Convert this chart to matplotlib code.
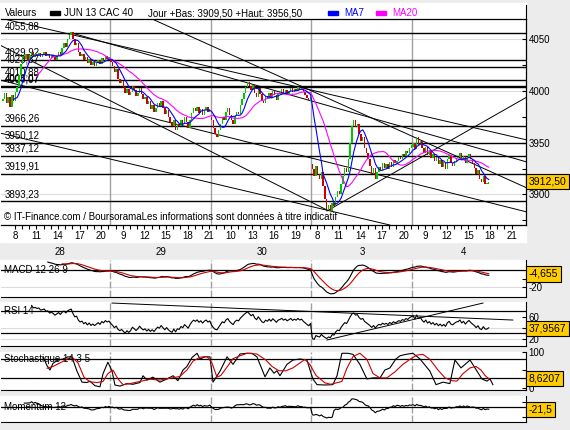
import numpy as np
import pandas as pd
import matplotlib
matplotlib.use("Agg")
import matplotlib.pyplot as plt
from matplotlib.patches import Rectangle

plt.rcParams['font.family'] = ['Liberation Sans', 'DejaVu Sans']

# ---- data (15 min bars, one list per trading day) ----
day_names = ["28", "29", "30", "3", "4"]
day_first_slot = [-4, 56, 112, 168, 224]
day_open = [3990, 4030, 3975, 3929, 3946]

close_28 = [3992, 3998, 3988, 3994, 3985, 3996, 3990, 3999, 4004,
            4015, 4026, 4034,
            4031, 4036, 4029, 4035, 4038, 4033, 4036, 4034,
            4037, 4033, 4035, 4038, 4034, 4036, 4032, 4035, 4033, 4030, 4034,
            4038, 4035, 4042, 4046, 4043, 4050, 4054, 4057,
            4050, 4044, 4046, 4038, 4034, 4036,
            4030, 4033, 4027, 4031, 4025, 4028, 4024, 4027, 4030, 4026, 4032, 4029, 4034, 4031, 4033]
close_29 = [4028, 4024, 4018, 4021, 4012, 4008, 4010,
            4004, 3998, 4002, 3996, 3999, 4005, 4001, 3995, 3998, 4003, 3997,
            3992, 3994, 3987, 3990, 3983, 3986, 3980, 3984, 3988, 3985,
            3990, 3984, 3978, 3982, 3975, 3970, 3966, 3972, 3962, 3968,
            3966, 3972, 3968, 3975, 3970, 3964, 3972, 3979, 3984,
            3981, 3985, 3979, 3983, 3977, 3982, 3985, 3980, 3983]
close_30 = [3972, 3964, 3958, 3956, 3962,
            3968, 3975, 3972, 3980, 3984, 3977, 3972, 3968, 3976, 3980, 3978,
            3986, 3992, 3998, 4004, 4009, 4005,
            4001, 4006, 3998, 3994, 4003, 3997, 3990, 3988, 3995, 3992,
            3998, 3993, 4000, 3996, 3991, 3997,
            3999, 4002, 3998, 4001, 3997, 4000, 4003, 3999, 4002, 4000, 4004, 4001, 4003, 3999, 3996, 3993, 3990, 3994]
close_3 = [3925, 3918, 3928, 3920, 3915, 3922,
           3908, 3896, 3886, 3890,
           3884, 3892, 3889, 3898, 3903, 3900, 3910,
           3918, 3926, 3922, 3934,
           3950, 3966, 3972,
           3965, 3968, 3958, 3952, 3956, 3945, 3940,
           3934, 3928, 3920, 3926, 3915,
           3922, 3927, 3924, 3930, 3926, 3929, 3925, 3931, 3927, 3933, 3930,
           3932, 3936, 3934, 3939, 3937, 3942, 3940, 3945, 3948]
close_4 = [3950, 3944, 3956, 3948, 3952, 3945,
           3940, 3946, 3938, 3942, 3935, 3939, 3932, 3936,
           3929, 3933, 3927, 3931, 3925, 3934, 3938, 3930, 3928, 3932, 3935,
           3936, 3940, 3933, 3937, 3930, 3935, 3939, 3934, 3930,
           3926, 3920, 3924, 3915, 3912, 3918, 3910, 3910, 3912.5]

# support / resistance levels
levels = [4055.88, 4029.92, 4023.37, 4010.88, 4005.07, 4004.07,
          3966.26, 3950.12, 3937.12, 3919.91, 3893.23]
level_labels = ["4055,88", "4029,92", "4023,37", "4010,88", "4005,07", "4004,07",
                "3966,26", "3950,12", "3937,12", "3919,91", "3893,23"]

# trend lines (slot, price)
trend_x0 = [-5.6, 34.4, 77.8, -5.6, 176.1, -5.6, -5.6]
trend_y0 = [4070.5, 4056.0, 4070.5, 4010.6, 3884.1, 4044.4, 3959.4]
trend_x1 = [287.2, 287.2, 287.2, 287.2, 287.2, 176.1, 211.0]
trend_y1 = [3952.7, 3931.4, 3906.3, 3883.1, 3994.2, 3885.0, 3870.5]

# RSI trend lines (slot, value)
rsi_tx0 = [56.7, 176.1]
rsi_ty0 = [84.5, 17.3]
rsi_tx1 = [279.4, 262.8]
rsi_ty1 = [53.6, 84.5]

# stochastic (slot, value)
stoch_k_slot = [18.3, 20.6, 22.2, 23.9, 26.7, 29.4, 32.2, 34.4, 37.2, 40.0, 42.8, 44.4, 47.2, 50.0,
                51.7, 54.4, 56.7, 58.3, 61.1, 65.0, 68.3, 72.2, 73.9, 76.1, 79.4, 83.3, 87.2, 90.6,
                93.3, 96.1, 98.3, 101.1, 103.9, 105.6, 108.3, 111.1, 112.8, 116.7, 120.6, 123.9,
                127.8, 131.7, 134.4, 137.2, 141.7, 144.4, 146.7, 148.3, 150.0, 153.9, 157.2, 161.1,
                165.0, 166.7, 168.3, 170.6, 175.0, 179.4, 181.7, 184.4, 187.8, 190.6, 194.4, 198.3,
                201.7, 205.6, 208.3, 211.1, 214.4, 216.7, 220.0, 223.9, 227.8, 233.3, 236.7, 240.6,
                244.4, 247.2, 250.6, 255.6, 262.2, 265.0, 266.7, 268.3]
stoch_k = [87, 62, 50, 69, 78, 81, 87, 87, 47, 16, 15, 19, 6, 3,
           40, 72, 47, 8, 5, 12, 10, 15, 34, 22, 30, 16, 25, 34,
           20, 50, 60, 85, 97, 81, 87, 87, 16, 47, 87, 66,
           95, 97, 97, 87, 31, 56, 41, 48, 34, 66, 78, 81,
           78, 50, 25, 9, 8, 9, 34, 97, 97, 94, 66, 25,
           28, 28, 50, 56, 81, 90, 94, 97, 81, 47, 9, 16,
           12, 78, 56, 78, 25, 19, 25, 9]
stoch_d_slot = [20.6, 23.9, 27.8, 32.2, 35.0, 37.8, 41.1, 44.4, 48.3, 51.7, 54.4, 57.2, 60.0,
                62.8, 66.7, 72.2, 77.8, 83.3, 88.9, 94.4, 98.3, 101.7, 105.6, 109.4, 112.2, 115.0,
                117.2, 121.1, 123.9, 127.8, 131.7, 137.2, 142.2, 145.6, 149.4, 153.3, 157.2, 161.7,
                163.9, 166.7, 170.0, 175.0, 178.3, 184.4, 187.2, 190.6, 194.4, 198.3, 201.7, 205.6,
                209.4, 213.9, 218.3, 222.2, 226.1, 229.4, 233.3, 237.8, 241.7, 245.6, 248.3, 251.7,
                255.6, 258.9, 261.7, 263.9, 266.1]
stoch_d = [55, 60, 70, 82, 84, 70, 30, 17, 15, 18, 40, 50, 25,
           9, 12, 18, 24, 22, 27, 32, 50, 75, 86, 88, 70, 30,
           35, 62, 82, 90, 97, 95, 78, 60, 48, 48, 56, 72,
           80, 65, 35, 14, 10, 18, 55, 88, 97, 80, 40, 28,
           28, 45, 66, 80, 92, 94, 80, 50, 28, 20, 19, 40,
           56, 60, 50, 35, 25]

# x axis labels
tick_day = [0, 0, 0, 0, 0, 1, 1, 1, 1, 1, 2, 2, 2, 2, 3, 3, 3, 3, 3, 4, 4, 4, 4, 4]
tick_hour = [8, 11, 14, 17, 20, 9, 12, 15, 18, 21, 10, 13, 16, 19, 8, 11, 14, 17, 20, 9, 12, 15, 18, 21]

# ---- build series ----
day_closes = [close_28, close_29, close_30, close_3, close_4]
closes = np.concatenate([np.array(c, float) for c in day_closes])
slots = np.concatenate([np.arange(s, s + len(c)) for s, c in zip(day_first_slot, day_closes)])
opens = np.r_[np.nan, closes[:-1]]
firsts = np.cumsum([0] + [len(c) for c in day_closes[:-1]])
opens[firsts] = day_open

close = pd.Series(closes)
idx = close.index
ma7 = close.rolling(7).mean()
ma20 = close.rolling(20).mean()
macd_all = close.ewm(span=12, adjust=False).mean() - close.ewm(span=26, adjust=False).mean()
signal = macd_all.ewm(span=9, adjust=False).mean().where(idx >= 33)
macd = macd_all.where(idx >= 25)
delta = close.diff()
gain = delta.clip(lower=0).ewm(alpha=1 / 14, adjust=False).mean()
loss = (-delta.clip(upper=0)).ewm(alpha=1 / 14, adjust=False).mean()
rsi = (100 - 100 / (1 + gain / loss)).where(idx >= 16)
mom = close - close.shift(12)

# ---- figure ----
W, H = 570, 430
fig = plt.figure(figsize=(W / 100, H / 100), dpi=100, facecolor='#ececec')


def box(x0, y0, x1, y1):
    return [x0 / W, 1 - y1 / H, (x1 - x0) / W, (y1 - y0) / H]


def rect(x0, y0, x1, y1, **kw):
    fig.add_artist(Rectangle((x0 / W, 1 - y1 / H), (x1 - x0) / W, (y1 - y0) / H,
                             transform=fig.transFigure, **kw))


def ftext(x, y, s, **kw):
    fig.text(x / W, 1 - y / H, s, va='center', fontsize=7, **kw)


GRAY = '#a0a0a0'
GREEN = '#00c800'
RED = '#cc0000'
XMIN, XMAX = -5, 286.7
seps = [55.5, 111.5, 167.5, 223.5]

# white panels
rect(0, 3, 526, 242, color='white', zorder=0)
for y0, y1 in [(260, 297), (302, 346), (352, 390), (396, 422)]:
    rect(0, y0, 526, y1, color='white', zorder=0)

# header
ftext(5, 13, "Valeurs")
rect(50, 11, 60, 15, color='black')
ftext(64, 13, "JUN 13 CAC 40")
ftext(148, 13, "Jour +Bas: 3909,50 +Haut: 3956,50")
rect(328, 11, 338, 15, color='#0000ff')
ftext(344, 13, "MA7", color='#0000ff')
rect(376, 11, 386, 15, color='#ff00ff')
ftext(392, 13, "MA20", color='#ff00ff')
fig.add_artist(plt.Line2D([526 / W, 526 / W], [1 - 5 / H, 1 - 19 / H], color='black', lw=0.8))

# ---- main price axes ----
ax = fig.add_axes(box(1, 19, 526, 225))
ax.set_facecolor('none')
ax.set_xlim(XMIN, XMAX)
ax.set_ylim(3870.5, 4069.6)
for g in [3900, 3950, 4000, 4050]:
    ax.axhline(g, color='#dcdcdc', lw=0.8, zorder=0)
for s in seps:
    ax.axvline(s, color=GRAY, lw=1.0, zorder=1)
for lv, lb in zip(levels, level_labels):
    ax.axhline(lv, color='black', lw=1.0, zorder=2)
    ax.annotate(lb, xy=(0, lv), xycoords=('axes fraction', 'data'), xytext=(3, 1.5),
                textcoords='offset points', fontsize=7, va='bottom', ha='left')
for x0, y0, x1, y1 in zip(trend_x0, trend_y0, trend_x1, trend_y1):
    ax.plot([x0, x1], [y0, y1], color='black', lw=0.7, zorder=2)

body = closes - opens
body = np.where(np.abs(body) < 1.2, np.where(body >= 0, 1.2, -1.2), body)
cols = np.where(closes >= opens, GREEN, RED)
ax.bar(slots, body, bottom=opens, width=0.8, color=cols, zorder=3)
ax.plot(slots, ma20, color='#ff00ff', lw=0.8, zorder=4)
ax.plot(slots, ma7, color='#0000ff', lw=0.8, zorder=4)

ax.yaxis.tick_right()
ax.set_yticks([3900, 3950, 4000, 4050])
ax.set_yticks([3875, 3925, 3975, 4025], minor=True)
ax.tick_params(axis='y', which='both', direction='in', length=3, width=0.8, labelsize=7, pad=2)

tick_slots = [day_first_slot[1] * d + (h - 7.33) * 4 for d, h in zip(tick_day, tick_hour)]
ax.set_xticks(tick_slots)
ax.set_xticklabels([str(h) for h in tick_hour])
minor = [56 * d + (h - 7.33) * 4 for d in range(5) for h in range(8, 22)]
ax.set_xticks([m for m in minor if XMIN < m < XMAX], minor=True)
ax.tick_params(axis='x', which='both', direction='out', length=3, width=0.8, labelsize=7, pad=1)
ax.spines['left'].set_visible(False)
for sp in ['top', 'bottom', 'right']:
    ax.spines[sp].set_linewidth(0.9)
for d, name in enumerate(day_names):
    ax.annotate(name, xy=(56 * d + 28, 0), xycoords=('data', 'axes fraction'), xytext=(0, -19.5),
                textcoords='offset points', fontsize=7, ha='center', va='center', annotation_clip=False)
ax.text(0.005, 0.04, "\u00a9 IT-Finance.com / BoursoramaLes informations sont données à titre indicatif",
        transform=ax.transAxes, fontsize=7, va='center', zorder=5)

yb = dict(boxstyle='square,pad=0.25', fc='#ffcc00', ec='black', lw=0.8)


def value_box(a, y, s):
    a.annotate(s, xy=(1, y), xycoords=('axes fraction', 'data'), xytext=(2, 0),
               textcoords='offset points', fontsize=7.5, va='center', ha='left',
               bbox=yb, annotation_clip=False, zorder=10)


value_box(ax, closes[-1], "3912,50")


def panel(y0, y1, lo_, hi_, name, name_y):
    a = fig.add_axes(box(1, y0, 526, y1))
    a.set_facecolor('none')
    a.set_xlim(XMIN, XMAX)
    a.set_ylim(lo_, hi_)
    a.set_xticks([])
    a.spines['left'].set_visible(False)
    a.spines['top'].set_visible(False)
    a.yaxis.tick_right()
    a.tick_params(axis='y', which='both', direction='in', length=3, width=0.8, labelsize=7, pad=2)
    for s in seps:
        a.axvline(s, color=GRAY, lw=1.0, ls=(0, (5, 1.5)), zorder=1)
    a.text(0.005, name_y, name, transform=a.get_yaxis_transform(), fontsize=7, va='center', zorder=5)
    return a


# MACD
a1 = panel(260, 297, -31.8, 11.8, "MACD 12 26 9", 0)
a1.axhline(0, color='black', lw=0.9, zorder=2)
a1.axhline(-20, color='#dcdcdc', lw=0.8, zorder=0)
a1.plot(slots, macd, color='black', lw=0.8, zorder=3)
a1.plot(slots, signal, color=RED, lw=0.8, zorder=3)
a1.set_yticks([-20, -10])
a1.set_yticklabels(["-20", ""])
value_box(a1, -4.655, "-4,655")

# RSI
a2 = panel(302, 346, 6.4, 86.4, "RSI 14", 70)
a2.axhline(70, color='black', lw=0.9, zorder=2)
a2.axhline(30, color='black', lw=0.9, zorder=2)
a2.axhline(40, color='#dcdcdc', lw=0.8, zorder=0)
a2.axhline(20, color='#dcdcdc', lw=0.8, zorder=0)
for x0, y0, x1, y1 in zip(rsi_tx0, rsi_ty0, rsi_tx1, rsi_ty1):
    a2.plot([x0, x1], [y0, y1], color='black', lw=0.7, zorder=2)
a2.plot(slots, rsi, color='black', lw=0.8, zorder=3)
a2.set_yticks([60, 40, 20])
a2.set_yticklabels(["60", "", "20"])
value_box(a2, 37.9567, "37,9567")

# Stochastic
a3 = panel(352, 390, -6, 100.6, "Stochastique 14 3 5", 80)
a3.axhline(80, color='black', lw=0.9, zorder=2)
a3.axhline(28, color='black', lw=0.9, zorder=2)
a3.plot(stoch_k_slot, stoch_k, color='black', lw=0.8, zorder=3)
a3.plot(stoch_d_slot, stoch_d, color=RED, lw=0.8, zorder=3)
a3.set_yticks([100, 50, 0])
a3.set_yticklabels(["100", "", "0"])
value_box(a3, 26, "8,6207")

# Momentum
a4 = panel(396, 422, -150, 110, "Momentum 12", 0)
a4.axhline(0, color='black', lw=0.9, zorder=2)
a4.plot(slots, mom, color='black', lw=0.8, zorder=3)
a4.set_yticks([50, -100])
a4.set_yticklabels(["", ""])
value_box(a4, -21.5, "-21,5")

fig.savefig("out.png", dpi=100, facecolor=fig.get_facecolor())
